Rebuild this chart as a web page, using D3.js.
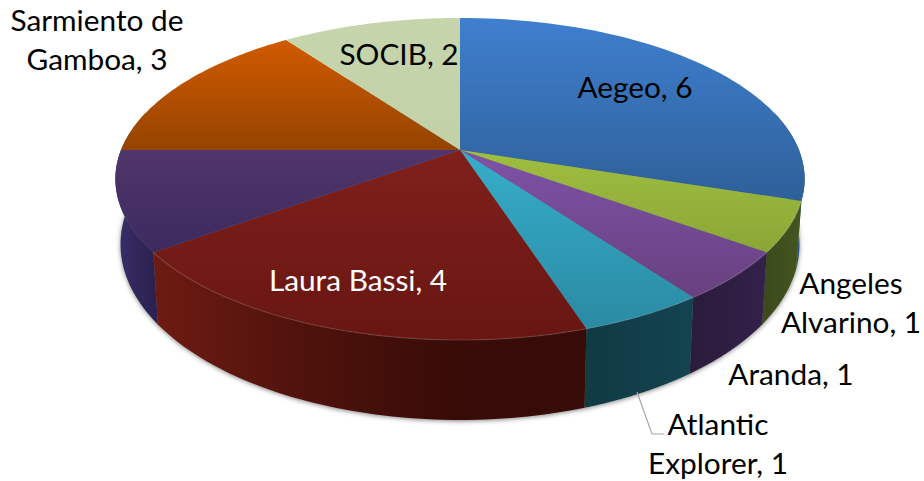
<!DOCTYPE html>
<html>
<head>
<meta charset="utf-8">
<script src="https://cdn.jsdelivr.net/npm/d3@7"></script>
<style>
  html, body { margin: 0; background: #fff; }
  text { font-family: Lato, "Open Sans", sans-serif; font-size: 29.8px; }
</style>
</head>
<body>
<div id="chart"></div>
<script>
// Chart data
const ships = ["Aegeo", "Angeles Alvarino", "Aranda", "Atlantic Explorer", "Laura Bassi", "Unlabeled", "Sarmiento de Gamboa", "SOCIB"];
const counts = [6, 1, 1, 1, 4, 2, 3, 2];

// Colours: top gradient (upper to lower), wall gradient (left to right)
const topColors = [
  ["#3f7fcf", "#2e6099"], ["#9fbf40", "#8aa636"], ["#7f52a8", "#68417f"], ["#35aecb", "#2b8aa3"],
  ["#80201c", "#681612"], ["#50356a", "#3c2a5e"], ["#d25a00", "#944400"], ["#c6d5ac", "#c2d1a6"]
];
const wallColors = [
  ["#274f7e", "#274f7e"], ["#3b4a1c", "#46561f"], ["#2b1b3c", "#33214a"], ["#103a44", "#13444f"],
  ["#6e1b12", "#50130c", "#3a0c08", "#360b08"], ["#3a2e6a", "#2c2250"], ["#7a3800", "#7a3800"], ["#9aa884", "#9aa884"]
];

const width = 924, height = 481;
const svg = d3.select("#chart").append("svg").attr("width", width).attr("height", height);
const defs = svg.append("defs");

// Perspective disc. Tilt makes the near edge larger than the far one
const cx = 460, cy = 150, rx = 339, ry = 155.8, tilt = 0.18;
const wallScale = d3.scaleLinear().domain([0, 190]).range([62.7, 270]);

function topPoint(a) {
  const k = 1 + tilt * Math.cos(a);
  return [cx + rx * Math.sin(a) / k, cy - ry * Math.cos(a) / k];
}
function bottomPoint(a) {
  const p = topPoint(a);
  return [cx + (p[0] - cx) * 0.985, cy + wallScale(p[1] - cy)];
}
const line = d3.line();
const arcAngles = (a, b) => d3.range(0, 61).map(i => a + (b - a) * i / 60);

const arcs = d3.pie().sort(null)(counts);

// Gradients
function gradient(id, stops, x1, y1, x2, y2) {
  const g = defs.append("linearGradient").attr("id", id)
    .attr("gradientUnits", "userSpaceOnUse")
    .attr("x1", x1).attr("y1", y1).attr("x2", x2).attr("y2", y2);
  stops.forEach((c, i) => {
    g.append("stop").attr("offset", i / (stops.length - 1)).attr("stop-color", c);
  });
}
arcs.forEach((d, i) => {
  const pts = arcAngles(d.startAngle, d.endAngle).map(topPoint).concat([[cx, cy]]);
  const ys = d3.extent(pts, p => p[1]);
  gradient("top" + i, topColors[i], 0, ys[0], 0, ys[1]);
  const xs = d3.extent(arcAngles(d.startAngle, d.endAngle).map(topPoint), p => p[0]);
  gradient("wall" + i, wallColors[i], xs[0], 0, xs[1], 0);
});
defs.append("filter").attr("id", "soft").attr("x", "-10%").attr("y", "-10%").attr("width", "120%").attr("height", "120%")
  .append("feGaussianBlur").attr("stdDeviation", 2.5);

// Soft shadow below the pie
const rim = arcAngles(0, 2 * Math.PI).map(bottomPoint);
svg.append("path")
  .attr("d", line(rim.map(p => [p[0], p[1] + 1])) + "Z")
  .attr("fill", "#777")
  .attr("filter", "url(#soft)");

// Outer walls, only the part of each slice that faces the viewer
const visible = arcs.map(d => {
  const a = Math.max(d.startAngle, Math.PI * 0.42), b = Math.min(d.endAngle, Math.PI * 1.58);
  return { a, b };
});
svg.append("g").selectAll("path")
  .data(visible)
  .enter()
  .filter(d => d.b > d.a)
  .append("path")
  .attr("d", d => {
    const angles = arcAngles(d.a, d.b);
    return line(angles.map(topPoint).concat(angles.slice().reverse().map(bottomPoint))) + "Z";
  })
  .attr("fill", d => "url(#wall" + visible.indexOf(d) + ")");

// Top face
svg.append("g").selectAll("path")
  .data(arcs)
  .enter()
  .append("path")
  .attr("d", d => line([[cx, cy]].concat(arcAngles(d.startAngle, d.endAngle).map(topPoint))) + "Z")
  .attr("fill", (d, i) => "url(#top" + i + ")");

// Light bevel along the front edge of the top
svg.append("path")
  .attr("d", line(arcAngles(Math.PI * 0.6, Math.PI * 1.3).map(topPoint)))
  .attr("fill", "none")
  .attr("stroke", "#fff")
  .attr("stroke-opacity", 0.1)
  .attr("stroke-width", 1.5);

// Leader line for Atlantic Explorer
svg.append("path")
  .attr("d", line([[637, 392], [652, 434], [664, 434]]))
  .attr("fill", "none")
  .attr("stroke", "#a6a6a6")
  .attr("stroke-width", 1.2);

// Labels
const labelLines = [
  ["Sarmiento de", "Gamboa, 3"], ["SOCIB, 2"], ["Aegeo, 6"], ["Laura Bassi, 4"],
  ["Angeles", "Alvarino, 1"], ["Aranda, 1"], ["Atlantic", "Explorer, 1"]
];
const labelX = [97, 399, 635, 358, 851, 791, 718];
const labelY = [31, 65, 98, 291, 294, 385, 435];

svg.append("g").selectAll("text")
  .data(labelLines)
  .enter()
  .append("text")
  .attr("text-anchor", "middle")
  .attr("fill", (d, i) => i === 3 ? "#fff" : "#000")
  .attr("y", (d, i) => labelY[i])
  .each(function(d, i) {
    d3.select(this).selectAll("tspan")
      .data(d)
      .enter()
      .append("tspan")
      .attr("x", labelX[i])
      .attr("dy", (t, j) => j ? 39 : 0)
      .text(t => t);
  });
</script>
</body>
</html>
